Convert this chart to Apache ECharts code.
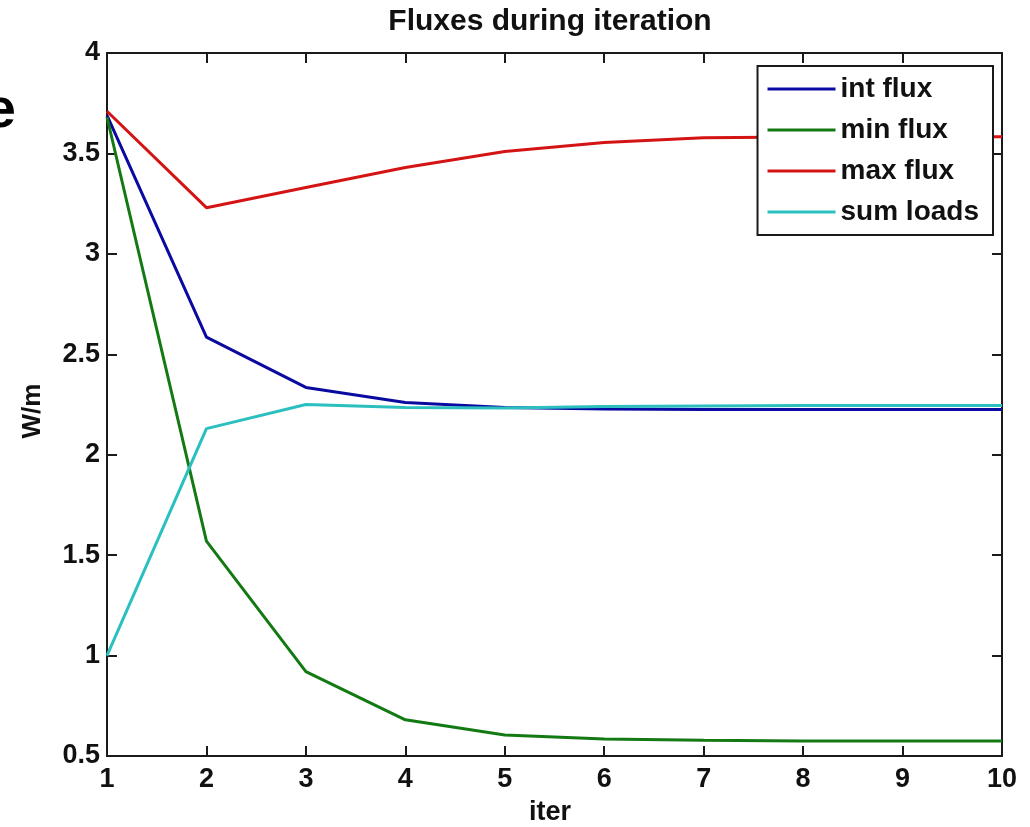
<!DOCTYPE html>
<html>
<head>
<meta charset="utf-8">
<script src="https://cdn.jsdelivr.net/npm/echarts@6/dist/echarts.min.js"></script>
<style>
html,body{margin:0;padding:0;background:#fff;overflow:hidden;}
#chart{width:1030px;height:827px;}
</style>
</head>
<body>
<div id="chart"></div>
<script>
const iters = [1, 2, 3, 4, 5, 6, 7, 8, 9, 10];
const intFlux = [3.69, 2.585, 2.335, 2.26, 2.235, 2.228, 2.225, 2.225, 2.225, 2.225];
const minFlux = [3.68, 1.57, 0.92, 0.68, 0.605, 0.585, 0.578, 0.575, 0.575, 0.575];
const maxFlux = [3.71, 3.23, 3.33, 3.43, 3.51, 3.555, 3.578, 3.582, 3.583, 3.583];
const sumLoads = [1.00, 2.13, 2.25, 2.235, 2.232, 2.24, 2.243, 2.245, 2.245, 2.245];
const seriesNames = ['int flux', 'min flux', 'max flux', 'sum loads'];
const seriesColors = ['#0a0aa0', '#137a13', '#d41414', '#2bbfbf'];
const seriesData = [intFlux, minFlux, maxFlux, sumLoads];

const FONT = "'Liberation Sans', Arial, Helvetica, sans-serif";
const el = document.getElementById('chart');
const chart = echarts.init(el, null, {renderer: 'canvas'});

function axisCommon(showLabel) {
  return {
    axisLine: {show: true, onZero: false, lineStyle: {color: '#1a1a1a', width: 2}},
    axisTick: {show: true, inside: true, length: 10, lineStyle: {color: '#1a1a1a', width: 2}},
    splitLine: {show: false},
    axisLabel: {show: false}
  };
}

const option = {
  animation: false,
  backgroundColor: '#ffffff',
  title: {
    text: 'Fluxes during iteration',
    left: 550, top: 7, textAlign: 'center',
    padding: 0,
    textStyle: {color: '#111', fontFamily: FONT, fontWeight: 'bold', fontSize: 30}
  },
  grid: {left: 107, right: 28, top: 53, bottom: 71, containLabel: false, outerBoundsMode: 'none'},
  legend: {
    data: seriesNames,
    orient: 'vertical',
    right: 37, top: 66,
    z: 20,
    backgroundColor: '#ffffff',
    borderColor: '#1a1a1a', borderWidth: 2, borderRadius: 0,
    padding: [9, 14, 9, 10],
    itemGap: 13,
    itemWidth: 68, itemHeight: 3,
    icon: 'rect',
    textStyle: {color: '#111', fontFamily: FONT, fontWeight: 'bold', fontSize: 28}
  },
  xAxis: [
    Object.assign({type: 'value', position: 'bottom', min: 1, max: 10, interval: 1,
      name: 'iter', nameLocation: 'middle', nameGap: 43,
      nameTextStyle: {color: '#111', fontFamily: FONT, fontWeight: 'bold', fontSize: 27, padding: [0, 9, 0, 0]}}, axisCommon(),
      {axisLabel: {show: true, margin: 10, color: '#111', fontFamily: FONT, fontWeight: 'bold', fontSize: 27}}),
    Object.assign({type: 'value', position: 'top', min: 1, max: 10, interval: 1}, axisCommon())
  ],
  yAxis: [
    Object.assign({type: 'value', position: 'left', min: 0.5, max: 4, interval: 0.5}, axisCommon(),
      {axisLabel: {show: true, margin: 7, color: '#111', fontFamily: FONT, fontWeight: 'bold', fontSize: 27}}),
    Object.assign({type: 'value', position: 'right', min: 0.5, max: 4, interval: 0.5}, axisCommon())
  ],
  graphic: [{
    type: 'text',
    x: 16, y: 112,
    style: {text: 'e', fill: '#000', font: 'bold 56px ' + FONT, textAlign: 'right', textVerticalAlign: 'middle'}
  }, {
    type: 'text',
    x: 33, y: 411,
    rotation: Math.PI / 2,
    style: {text: 'W/m', fill: '#111', font: 'bold 26px ' + FONT, textAlign: 'center', textVerticalAlign: 'middle'}
  }],
  series: seriesNames.map((n, i) => ({
    name: n,
    type: 'line',
    xAxisIndex: 0, yAxisIndex: 0,
    data: iters.map((x, j) => [x, seriesData[i][j]]),
    showSymbol: false, symbol: 'none',
    lineStyle: {color: seriesColors[i], width: 3},
    itemStyle: {color: seriesColors[i]}
  }))
};
chart.setOption(option);
</script>
</body>
</html>
